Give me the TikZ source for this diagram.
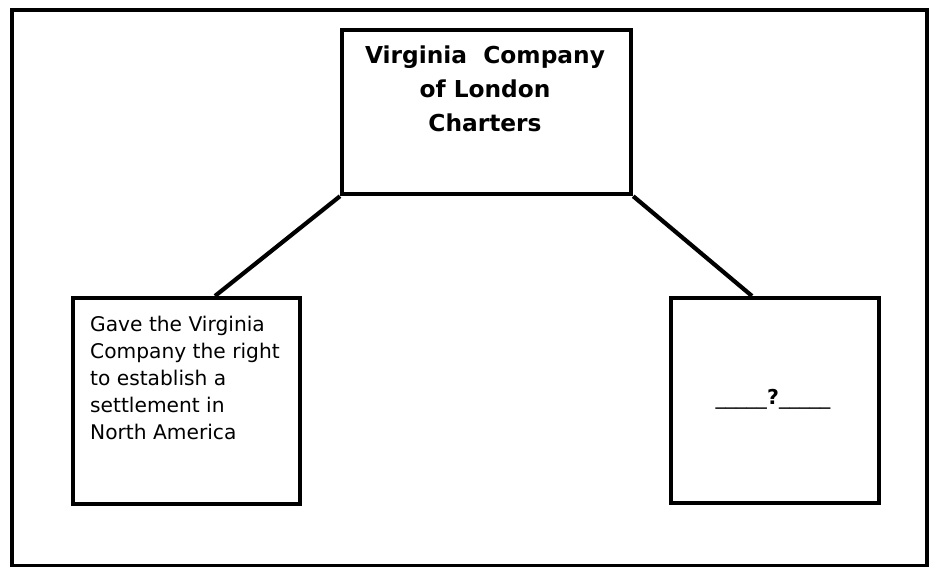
\documentclass[tikz,border=0pt]{standalone}
\usepackage{fontspec}
\setmainfont{DejaVu Sans}
\begin{document}
\begin{tikzpicture}[x=1pt,y=-1pt,
  box/.style={draw, line width=4.2pt, inner sep=0pt, anchor=north west},
  link/.style={line width=4.2pt},
  txt/.style={inner sep=0pt}]
\useasboundingbox (0,0) rectangle (930,567);
\node[box, minimum width=915pt, minimum height=556pt] (frame) at (10,8) {};
\node[box, minimum width=289pt, minimum height=164pt] (top) at (340,28) {};
\node[box, minimum width=227pt, minimum height=206pt] (left) at (71,296) {};
\node[box, minimum width=208pt, minimum height=205pt] (right) at (669,296) {};
\draw[link] (top.south west) -- ([xshift=144pt]left.north west);
\draw[link] (top.south east) -- ([xshift=83pt]right.north west);
\node[txt, font=\bfseries\fontsize{23.3}{34}\selectfont, align=center, anchor=north] (title) at (485,46)
  {Virginia\ \ Company\\of London\\Charters};
\node[txt, font=\fontsize{20.2}{27}\selectfont, align=left, anchor=north west] (lefttext) at (90,316)
  {Gave the Virginia\\Company the right\\to establish a\\settlement in\\North America};
\node[txt, font=\fontsize{20.5}{24}\selectfont, anchor=base] (q) at (773,404)
  {\_\_\_\_\_\textbf{?}\_\_\_\_\_};
\end{tikzpicture}
\end{document}
